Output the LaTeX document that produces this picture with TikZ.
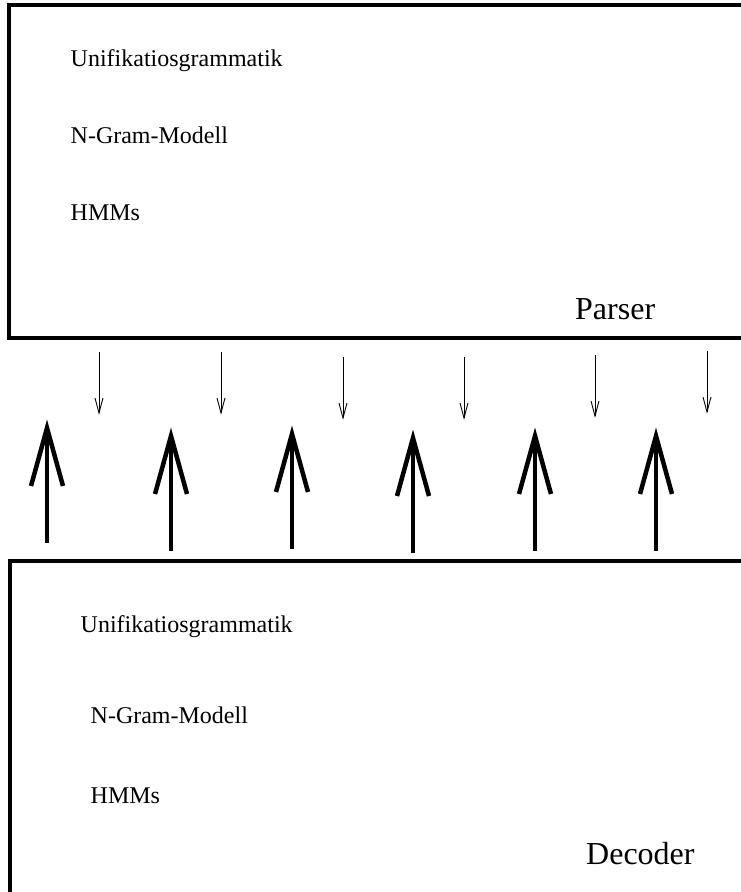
\documentclass[tikz,border=0pt]{standalone}
\usepackage{fontspec}
\setmainfont{Liberation Serif}
\begin{document}
\begin{tikzpicture}[x=1pt,y=-1pt,
  frame/.style={line width=4pt,line join=miter},
  item/.style={anchor=base west,inner sep=0pt,font=\fontsize{24}{28}\selectfont},
  title/.style={anchor=base west,inner sep=0pt,font=\fontsize{32}{38}\selectfont},
  thinarrow/.style={line width=0.9pt},
  thickarrow/.style={line width=4.5pt,line join=miter}]
\useasboundingbox (0,0) rectangle (741,892);
\clip (0,0) rectangle (741,892);
% Parser box (open to the right)
\coordinate (p-tr) at (760,5);
\coordinate (p-tl) at (8.5,5);
\coordinate (p-bl) at (8.5,338);
\coordinate (p-br) at (760,338);
\draw[frame] (p-tr) -- (p-tl) -- (p-bl) -- (p-br);
% Decoder box (open to the right and bottom)
\coordinate (d-tr) at (760,561);
\coordinate (d-tl) at (9.5,561);
\coordinate (d-bl) at (9.5,910);
\draw[frame] (d-tr) -- (d-tl) -- (d-bl);
% texts
\node[item] (pu) at (70.5,66) {Unifikatiosgrammatik};
\node[item] (pn) at (70.5,143) {N-Gram-Modell};
\node[item] (ph) at (70.5,220) {HMMs};
\node[title] (parser) at (575,319) {Parser};
\node[item] (du) at (80.5,632) {Unifikatiosgrammatik};
\node[item] (dn) at (90.5,723) {N-Gram-Modell};
\node[item] (dh) at (90.5,803) {HMMs};
\node[title] (decoder) at (586,864) {Decoder};
% thin downward arrows
\foreach \x/\t/\b [count=\i] in {99/352/413,221/352/413,343/357/418,464/357/418,595/355/416,707/351/412}{
  \coordinate (ds\i) at (\x,\t);
  \coordinate (de\i) at (\x,\b);
  \coordinate (dl\i) at (\x-4,\b-15);
  \coordinate (dr\i) at (\x+4,\b-15);
  \draw[thinarrow] (ds\i) -- (de\i);
  \draw[thinarrow] (dl\i) -- (de\i) -- (dr\i);
}
% thick upward arrows
\foreach \x/\t/\b [count=\i] in {47/428/543,171/436/551,292/434/549,413/438/553,535/436/551,656/436/551}{
  \coordinate (us\i) at (\x,\b);
  \coordinate (ue\i) at (\x,\t);
  \coordinate (ul\i) at (\x-16,\t+58);
  \coordinate (ur\i) at (\x+16,\t+58);
  \draw[thickarrow] (us\i) -- (ue\i);
  \draw[thickarrow] (ul\i) -- (ue\i) -- (ur\i);
}
\end{tikzpicture}
\end{document}
